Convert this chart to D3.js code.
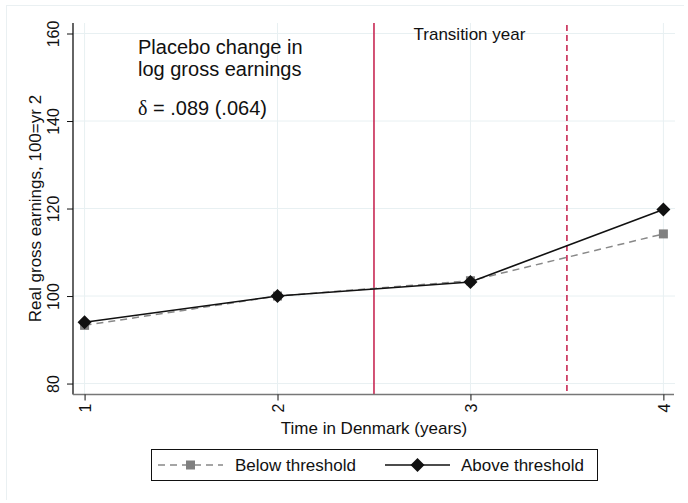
<!DOCTYPE html>
<html>
<head>
<meta charset="utf-8">
<script src="https://cdn.jsdelivr.net/npm/d3@7"></script>
<style>
  html, body { margin: 0; padding: 0; background: #fff; }
  svg { display: block; font-family: "Liberation Sans", Arial, Helvetica, sans-serif; }
</style>
</head>
<body>
<svg id="chart" width="688" height="503"></svg>
<script>
// Years in Denmark and earnings index (100 = year 2)
const years = [1, 2, 3, 4];
const belowThreshold = [93.3, 100, 103.5, 114.2];
const aboveThreshold = [94.0, 100, 103.2, 119.8];
const yTicks = [80, 100, 120, 140, 160];
const xTicks = [1, 2, 3, 4];
const transitionLines = [2.5, 3.5];
const seriesNames = ["Below threshold", "Above threshold"];

const svg = d3.select("#chart");

const x = d3.scaleLinear().domain([0.94, 4.055]).range([73, 674]);
const y = d3.scaleLinear().domain([77.5, 162.4]).range([394.5, 23]);

const gridColor = "#e8f0f2";
const red = "#c41a48";

// faint outer frame
svg.append("line").attr("x1", 6).attr("x2", 684).attr("y1", 5.5).attr("y2", 5.5)
  .attr("stroke", "#eaf0f2").attr("stroke-width", 1);
svg.append("line").attr("x1", 6.5).attr("x2", 6.5).attr("y1", 5).attr("y2", 500)
  .attr("stroke", "#eaf0f2").attr("stroke-width", 1);

// gridlines
svg.append("g").selectAll("line").data(yTicks).join("line")
  .attr("x1", 73).attr("x2", 675)
  .attr("y1", d => y(d)).attr("y2", d => y(d))
  .attr("stroke", gridColor).attr("stroke-width", 1);
svg.append("g").selectAll("line").data(xTicks).join("line")
  .attr("x1", d => x(d)).attr("x2", d => x(d))
  .attr("y1", 23).attr("y2", 394)
  .attr("stroke", gridColor).attr("stroke-width", 1);

// transition markers
svg.append("g").selectAll("line").data(transitionLines).join("line")
  .attr("x1", d => x(d)).attr("x2", d => x(d))
  .attr("y1", (d, i) => i === 0 ? 23 : 25).attr("y2", 394)
  .attr("stroke", red).attr("stroke-width", 1.5)
  .attr("stroke-dasharray", (d, i) => i === 0 ? null : "6,4");

// y axis
const yAxis = d3.axisLeft(y).tickValues(yTicks).tickSize(6).tickFormat(d3.format("d"));
const gy = svg.append("g").attr("transform", "translate(73,0)").call(yAxis);
gy.select(".domain").attr("d", `M0,${23}V${394.5}`).attr("stroke", "#111").attr("stroke-width", 1.3);
gy.selectAll(".tick line").attr("stroke", "#111").attr("stroke-width", 1);
gy.selectAll(".tick text")
  .attr("font-size", 16).attr("fill", "#111").attr("font-family", null)
  .attr("x", null).attr("dy", null)
  .attr("text-anchor", "middle")
  .attr("transform", "translate(-14,0) rotate(-90)");

// x axis
const xAxis = d3.axisBottom(x).tickValues(xTicks).tickSize(6).tickFormat(d3.format("d"));
const gx = svg.append("g").attr("transform", "translate(0,394.5)").call(xAxis);
gx.select(".domain").attr("d", `M73,0H674`).attr("stroke", "#777").attr("stroke-width", 1.5);
gx.selectAll(".tick line").attr("stroke", "#111").attr("stroke-width", 1);
gx.selectAll(".tick text")
  .attr("font-size", 16).attr("fill", "#111").attr("font-family", null)
  .attr("y", null).attr("dy", null)
  .attr("text-anchor", "end")
  .attr("transform", "translate(6,9) rotate(-90)");

// axis titles
svg.append("text")
  .attr("transform", `translate(41,${y(120)}) rotate(-90)`)
  .attr("text-anchor", "middle").attr("font-size", 17).attr("fill", "#111")
  .text("Real gross earnings, 100=yr 2");
svg.append("text")
  .attr("x", 374).attr("y", 434)
  .attr("text-anchor", "middle").attr("font-size", 17).attr("fill", "#111")
  .text("Time in Denmark (years)");

// annotations
svg.append("text").attr("x", x(3) - 1).attr("y", 40)
  .attr("text-anchor", "middle").attr("font-size", 17).attr("fill", "#111")
  .text("Transition year");
const note = svg.append("text").attr("x", 138).attr("font-size", 20).attr("fill", "#111");
note.append("tspan").attr("x", 138).attr("y", 54).text("Placebo change in");
note.append("tspan").attr("x", 138).attr("y", 76).text("log gross earnings");
const est = svg.append("text").attr("x", 138).attr("y", 115).attr("font-size", 20).attr("fill", "#111");
est.append("tspan").attr("font-family", "'Liberation Serif', 'Times New Roman', serif").text("δ");
est.append("tspan").text(" = .089 (.064)");

// series
const line = d3.line().x(d => x(d[0])).y(d => y(d[1]));
const below = years.map((yr, i) => [yr, belowThreshold[i]]);
const above = years.map((yr, i) => [yr, aboveThreshold[i]]);

svg.append("path").datum(below).attr("d", line)
  .attr("fill", "none").attr("stroke", "#888").attr("stroke-width", 1.5)
  .attr("stroke-dasharray", "7,5");
svg.append("g").selectAll("rect").data(below).join("rect")
  .attr("x", d => x(d[0]) - 4.5).attr("y", d => y(d[1]) - 4.5)
  .attr("width", 9).attr("height", 9).attr("fill", "#808080");

svg.append("path").datum(above).attr("d", line)
  .attr("fill", "none").attr("stroke", "#111").attr("stroke-width", 1.6);
const diamond = "M0,-7L7,0L0,7L-7,0Z";
svg.append("g").selectAll("path").data(above).join("path")
  .attr("d", diamond)
  .attr("transform", d => `translate(${x(d[0])},${y(d[1])})`)
  .attr("fill", "#111");

// legend
const lg = svg.append("g");
lg.append("rect").attr("x", 151.5).attr("y", 449.5).attr("width", 446).attr("height", 31)
  .attr("fill", "#fff").attr("stroke", "#111").attr("stroke-width", 1);
lg.append("line").attr("x1", 158).attr("x2", 223).attr("y1", 465).attr("y2", 465)
  .attr("stroke", "#888").attr("stroke-width", 1.5).attr("stroke-dasharray", "7,5");
lg.append("rect").attr("x", 186).attr("y", 460.5).attr("width", 9).attr("height", 9).attr("fill", "#808080");
lg.append("text").attr("x", 235).attr("y", 471).attr("font-size", 17).attr("fill", "#111").text(seriesNames[0]);
lg.append("line").attr("x1", 385).attr("x2", 450).attr("y1", 465).attr("y2", 465)
  .attr("stroke", "#111").attr("stroke-width", 1.6);
lg.append("path").attr("d", diamond).attr("transform", "translate(417.5,465)").attr("fill", "#111");
lg.append("text").attr("x", 461).attr("y", 471).attr("font-size", 17).attr("fill", "#111").text(seriesNames[1]);
</script>
</body>
</html>
